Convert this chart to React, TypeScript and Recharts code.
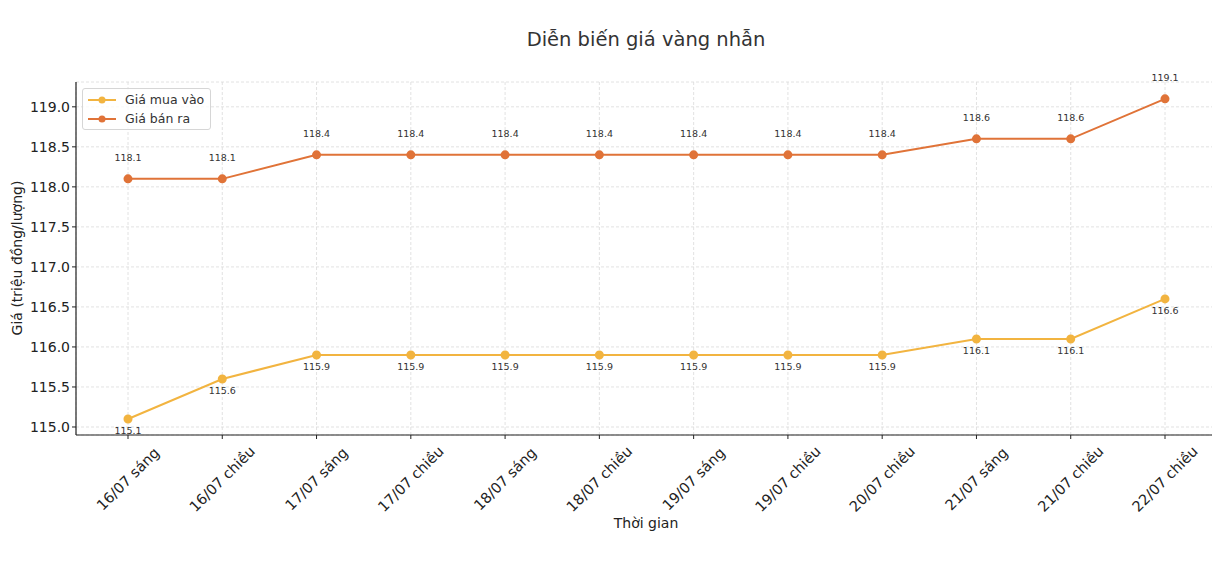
import React from "react";
import {
  LineChart,
  Line,
  XAxis,
  YAxis,
  CartesianGrid,
  LabelList,
} from "recharts";

const LABELS = [
  "16/07 sáng",
  "16/07 chiều",
  "17/07 sáng",
  "17/07 chiều",
  "18/07 sáng",
  "18/07 chiều",
  "19/07 sáng",
  "19/07 chiều",
  "20/07 chiều",
  "21/07 sáng",
  "21/07 chiều",
  "22/07 chiều",
];
const BUY = [115.1, 115.6, 115.9, 115.9, 115.9, 115.9, 115.9, 115.9, 115.9, 116.1, 116.1, 116.6];
const SELL = [118.1, 118.1, 118.4, 118.4, 118.4, 118.4, 118.4, 118.4, 118.4, 118.6, 118.6, 119.1];
const Y_TICKS = [115, 115.5, 116, 116.5, 117, 117.5, 118, 118.5, 119];
const SERIES = [
  { key: "buy", name: "Giá mua vào", color: "#f2b440" },
  { key: "sell", name: "Giá bán ra", color: "#e07338" },
];

const FONT = "DejaVu Sans, sans-serif";

const data = LABELS.map((t, i) => ({ t, buy: BUY[i], sell: SELL[i] }));

const XTick = (props: any) => {
  const { x, y, payload } = props;
  return (
    <text
      x={x}
      y={y + 38}
      transform={`rotate(-45 ${x} ${y + 38})`}
      textAnchor="middle"
      dominantBaseline="central"
      fontSize={14.5}
      fill="#222"
      fontFamily={FONT}
    >
      {payload.value}
    </text>
  );
};

export default function App() {
  return (
    <div style={{ position: "relative", width: 1204, height: 560, fontFamily: FONT }}>
      <div
        style={{
          position: "absolute",
          left: 0,
          width: 1276,
          top: 20,
          textAlign: "center",
          fontSize: 19.5,
          color: "#333",
        }}
      >
        Diễn biến giá vàng nhẫn
      </div>
      <div
        style={{
          position: "absolute",
          left: 9,
          top: 250,
          transform: "translate(-50%, -50%) rotate(-90deg)",
          whiteSpace: "nowrap",
          fontSize: 14,
          color: "#222",
        }}
      >
        Giá (triệu đồng/lượng)
      </div>
      <div
        style={{
          position: "absolute",
          left: 0,
          width: 1276,
          top: 507,
          textAlign: "center",
          fontSize: 14,
          color: "#222",
        }}
      >
        Thời gian
      </div>
      <LineChart
        width={1212}
        height={560}
        data={data}
        margin={{ top: 74, right: 3, bottom: 33, left: 8 }}
      >
        <CartesianGrid stroke="#dadada" strokeWidth={0.8} strokeDasharray="3 2" />
        <XAxis
          dataKey="t"
          height={100}
          padding={{ left: 52, right: 52 }}
          tick={<XTick />}
          interval={0}
          axisLine={{ stroke: "#222", strokeWidth: 1.2 }}
          tickLine={{ stroke: "#222" }}
          tickSize={4}
        />
        <YAxis
          width={60}
          domain={[114.9, 119.31]}
          allowDataOverflow
          ticks={Y_TICKS}
          tickFormatter={(v: number) => v.toFixed(1)}
          tick={{ fontSize: 14, fill: "#222", fontFamily: FONT }}
          axisLine={{ stroke: "#222", strokeWidth: 1.2 }}
          tickLine={{ stroke: "#222" }}
          tickSize={4}
        />
        {SERIES.map((s) => (
          <Line
            key={s.key}
            dataKey={s.key}
            name={s.name}
            stroke={s.color}
            strokeWidth={2}
            dot={{ r: 3.5, fill: s.color, stroke: s.color }}
            isAnimationActive={false}
          >
            <LabelList
              dataKey={s.key}
              position={s.key === "buy" ? "bottom" : "top"}
              offset={s.key === "buy" ? 8 : 18}
              formatter={(v: number) => v.toFixed(1)}
              style={{ fontSize: 9.5, fill: "#333", fontFamily: FONT }}
            />
          </Line>
        ))}
      </LineChart>
      <div
        style={{
          position: "absolute",
          left: 74,
          top: 80,
          border: "1px solid #d6d6d6",
          borderRadius: 3,
          background: "rgba(255,255,255,0.8)",
          padding: "1px 6px 1px 5px",
          fontSize: 12.5,
          color: "#333",
          lineHeight: "19px",
        }}
      >
        {SERIES.map((s) => (
          <div key={s.key} style={{ display: "flex", alignItems: "center" }}>
            <svg width={28} height={10} style={{ marginRight: 9 }}>
              <line x1={0} y1={5} x2={28} y2={5} stroke={s.color} strokeWidth={2} />
              <circle cx={14} cy={5} r={3.5} fill={s.color} />
            </svg>
            {s.name}
          </div>
        ))}
      </div>
    </div>
  );
}
